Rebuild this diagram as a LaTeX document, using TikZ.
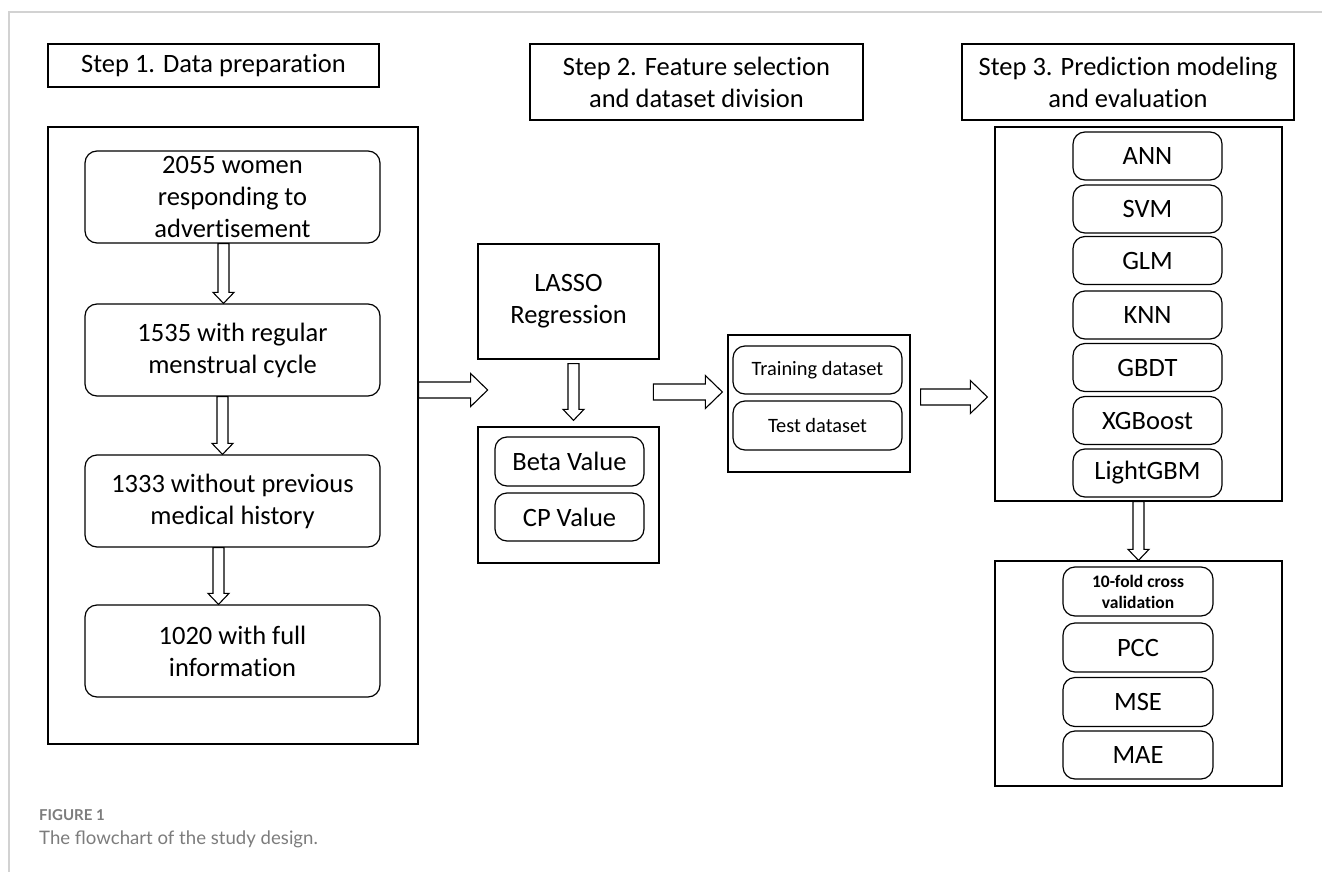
\documentclass[tikz,border=0pt]{standalone}
\usepackage{fontspec}
\setmainfont{Carlito}[Ligatures=NoCommon]
\newfontfamily\capfont{Lato}
\usetikzlibrary{calc}

\definecolor{capgray}{HTML}{7C7C7C}
\definecolor{edgegray}{HTML}{D2D2D2}

\newcommand{\flowfont}{\fontsize{26.5pt}{32pt}\selectfont}
\newcommand{\splitfont}{\fontsize{20.4pt}{24pt}\selectfont}
\newcommand{\cvfont}{\bfseries\fontsize{17.5pt}{21pt}\selectfont}

\tikzset{
  stepbox/.style={draw=black,line width=1.2pt,inner sep=0pt,align=center,font=\flowfont},
  group/.style={draw=black,line width=1.3pt,inner sep=0pt},
  item/.style={draw=black,line width=1.2pt,rounded corners=12pt,inner sep=0pt,align=center,font=\flowfont},
  hollow/.style={draw=black,line width=1.1pt,fill=white,line join=miter},
}

% hollow block arrows: start point, tip
\newcommand{\hollowdown}[2]{%
  \draw[hollow] ($(#1)+(-5.5,0)$) -- ($(#1 |- #2)+(-5.5,-11)$) -- ($(#1 |- #2)+(-10.5,-11)$)
    -- (#1 |- #2) -- ($(#1 |- #2)+(10.5,-11)$) -- ($(#1 |- #2)+(5.5,-11)$) -- ($(#1)+(5.5,0)$) -- cycle;}
\newcommand{\hollowright}[2]{%
  \draw[hollow] ($(#1)+(0,-8)$) -- ($(#2 |- #1)+(-17,-8)$) -- ($(#2 |- #1)+(-17,-16.5)$)
    -- (#2 |- #1) -- ($(#2 |- #1)+(-17,16.5)$) -- ($(#2 |- #1)+(-17,8)$) -- ($(#1)+(0,8)$) -- cycle;}

\begin{document}
\begin{tikzpicture}[x=1pt,y=-1pt]
      \useasboundingbox (0,0) rectangle (1322,872);
      \draw[edgegray,line width=1.4pt] (9,872) -- (9,12) -- (1322,12);

      % step headers
      \node[stepbox,minimum width=331pt,minimum height=43pt] (step1) at (213.5,65.5){Step 1. Data preparation};
      \node[stepbox,minimum width=333pt,minimum height=76pt] (step2) at (696.5,82){Step 2. Feature selection\\and dataset division};
      \node[stepbox,minimum width=332pt,minimum height=76pt] (step3) at (1128,82){Step 3. Prediction modeling\\and evaluation};

      % step 1
      \node[group,minimum width=370pt,minimum height=617pt] (prep) at (233,435.5){};
      \node[item,minimum width=295pt,minimum height=92pt] (b1) at (232.5,197){2055 women\\responding to\\advertisement};
      \node[item,minimum width=295pt,minimum height=92pt] (b2) at (232.5,350){1535 with regular\\menstrual cycle};
      \node[item,minimum width=295pt,minimum height=92pt] (b3) at (232.5,501){1333 without previous\\medical history};
      \node[item,minimum width=295pt,minimum height=92pt] (b4) at (232.5,651){1020 with full\\information};

      % step 2
      \node[stepbox,minimum width=181pt,minimum height=115pt] (lasso) at (568.5,301.5){LASSO\\Regression};
      \node[group,minimum width=181pt,minimum height=136pt] (coef) at (568.5,495){};
      \node[item,minimum width=149pt,minimum height=49pt] (beta) at (569.5,461.5){Beta Value};
      \node[item,minimum width=149pt,minimum height=48pt] (cp) at (569.5,517){CP Value};

      \node[group,minimum width=182pt,minimum height=137pt] (split) at (819,403.5){};
      \node[item,minimum width=169pt,minimum height=48pt,font=\splitfont] (train) at (817.5,370){Training dataset};
      \node[item,minimum width=169pt,minimum height=49pt,font=\splitfont] (test) at (817.5,425.5){Test dataset};

      % step 3
      \node[group,minimum width=287pt,minimum height=374pt] (models) at (1138.5,314){};
      \node[item,minimum width=149pt,minimum height=48pt] (ann) at (1147.5,156){ANN};
      \node[item,minimum width=149pt,minimum height=48pt] (svm) at (1147.5,209){SVM};
      \node[item,minimum width=149pt,minimum height=48pt] (glm) at (1147.5,260.5){GLM};
      \node[item,minimum width=149pt,minimum height=48pt] (knn) at (1147.5,315){KNN};
      \node[item,minimum width=149pt,minimum height=48pt] (gbdt) at (1147.5,367.5){GBDT};
      \node[item,minimum width=149pt,minimum height=48pt] (xgb) at (1147.5,420.5){XGBoost};
      \node[item,minimum width=149pt,minimum height=48pt] (lgbm) at (1147.5,473){LightGBM};

      \node[group,minimum width=287pt,minimum height=225pt] (eval) at (1138.5,673.5){};
      \node[item,minimum width=150pt,minimum height=49pt,font=\cvfont] (cv) at (1138,591.5){10-fold cross\\validation};
      \node[item,minimum width=150pt,minimum height=49pt] (pcc) at (1138,647.5){PCC};
      \node[item,minimum width=150pt,minimum height=49pt] (mse) at (1138,702){MSE};
      \node[item,minimum width=150pt,minimum height=48pt] (mae) at (1138,755){MAE};

      % arrows
      \coordinate (a1) at ([xshift=-9pt]b1.south);
      \coordinate (a2) at ([xshift=-10pt]b2.south);
      \coordinate (a3) at ([xshift=-14pt]b3.south);
      \hollowdown{a1}{b2.north}
      \hollowdown{a2}{b3.north}
      \hollowdown{a3}{b4.north}

      \coordinate (l1) at ([xshift=5pt,yshift=-4pt]lasso.south);
      \coordinate (l2) at ([yshift=6pt]coef.north);
      \hollowdown{l1}{l2}

      \coordinate (h1) at ([yshift=45.5pt]prep.east);
      \coordinate (h1e) at ([xshift=69pt]h1);
      \hollowright{h1}{h1e}

      \coordinate (h2e) at ([xshift=-5pt,yshift=11.5pt]split.west);
      \coordinate (h2) at ([xshift=-69pt]h2e);
      \hollowright{h2}{h2e}

      \coordinate (h3) at ([xshift=10pt,yshift=6.5pt]split.east);
      \coordinate (h3e) at ([xshift=-7pt]models.west);
      \hollowright{h3}{h3e}

      \hollowdown{models.south}{eval.north}

      % caption
      \node[anchor=base west,inner sep=0pt,text=capgray,font=\capfont\bfseries\fontsize{15pt}{18pt}\selectfont] (fig) at (39,820){FIGURE 1};
      \node[anchor=base west,inner sep=0pt,text=capgray,font=\capfont\fontsize{18.6pt}{22pt}\selectfont] (cap) at (39,844){The flowchart of the study design.};
\end{tikzpicture}
\end{document}
